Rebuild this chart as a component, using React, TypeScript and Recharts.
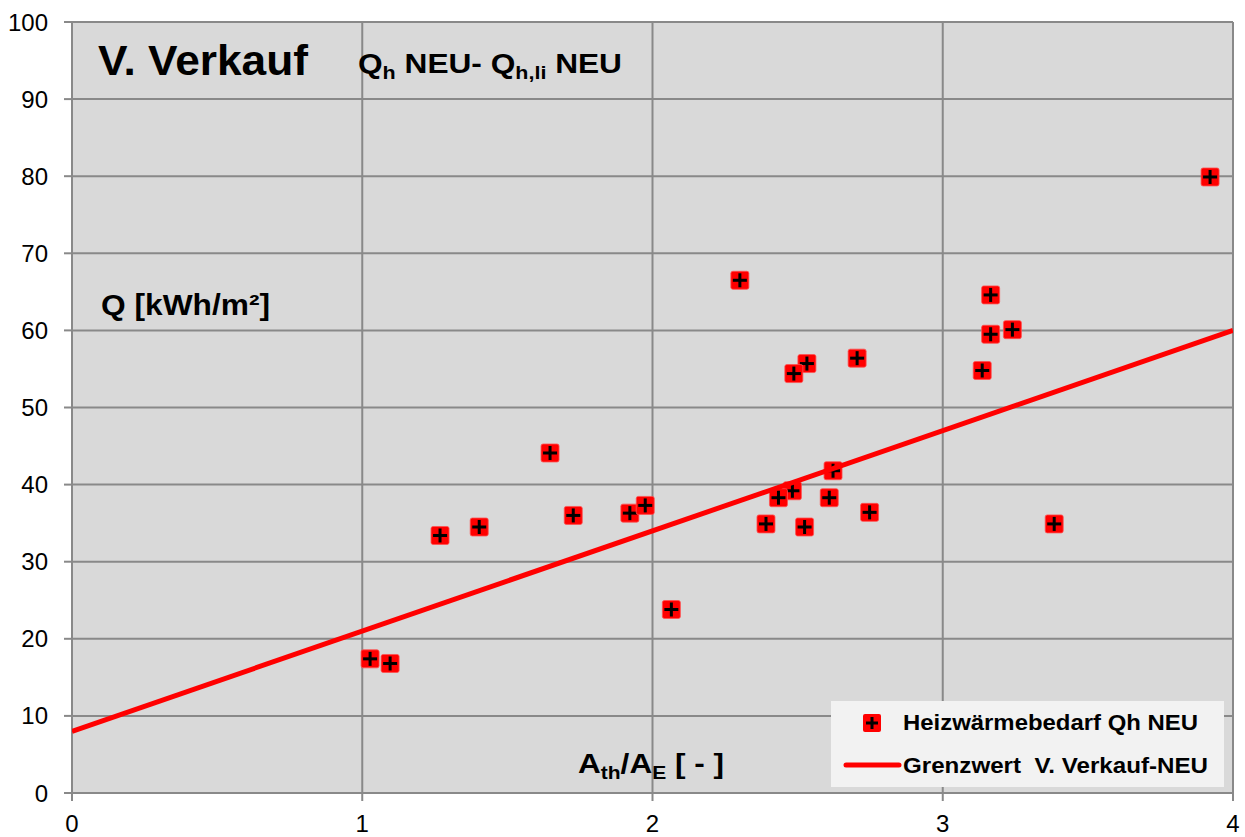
import React from 'react';
import { ScatterChart, Scatter, XAxis, YAxis, CartesianGrid } from 'recharts';

// A_th/A_E ratio of each building
const ratioValues = [
  3.921, 2.301, 3.165, 3.165, 3.240, 3.136, 2.705, 2.532, 2.487,
  1.647, 2.622, 2.482, 2.434, 2.609, 2.748, 2.391, 2.524, 3.384,
  1.727, 1.922, 1.975, 1.403, 1.268, 2.065, 1.027, 1.096,
];
// Heizwärmebedarf Qh NEU [kWh/m²]
const heatDemand = [
  79.9, 66.5, 64.6, 59.5, 60.1, 54.8, 56.4, 55.7, 54.4,
  44.1, 41.8, 39.2, 38.3, 38.3, 36.4, 34.9, 34.5, 34.9,
  36.0, 36.3, 37.3, 34.5, 33.4, 23.8, 17.4, 16.8,
];
// Grenzwert V. Verkauf-NEU line end points
const limitX = [0, 4];
const limitY = [8, 60];

const xTicks = [0, 1, 2, 3, 4];
const yTicks = [0, 10, 20, 30, 40, 50, 60, 70, 80, 90, 100];

const points = ratioValues.map((x, i) => ({ x, y: heatDemand[i] }));
const limitLine = limitX.map((x, i) => ({ x, y: limitY[i] }));

const FONT = '"Liberation Sans", Arial, sans-serif';
const GRID = '#898989';

const Marker = (props: any) => {
  const { cx, cy } = props;
  if (cx == null || cy == null) return null;
  return (
    <g>
      <rect x={cx - 9} y={cy - 9} width={18} height={18} rx={2} fill="#ff0000" stroke="#ff5050" strokeWidth={0.8} />
      <line x1={cx - 7} y1={cy} x2={cx + 7} y2={cy} stroke="#000" strokeWidth={3} />
      <line x1={cx} y1={cy - 7} x2={cx} y2={cy + 7} stroke="#000" strokeWidth={3} />
    </g>
  );
};

export default function App() {
  return (
    <div style={{ position: 'absolute', left: 0, top: 0, width: 1245, height: 837, background: '#fff' }}>
      <ScatterChart
        width={1245}
        height={837}
        margin={{ top: 22, right: 12, bottom: 0, left: 0 }}
      >
        <CartesianGrid fill="#d9d9d9" stroke={GRID} strokeWidth={2} />
        <XAxis
          type="number"
          dataKey="x"
          domain={[0, 4]}
          ticks={xTicks}
          height={44}
          tickSize={8}
          tickMargin={14}
          stroke={GRID}
          strokeWidth={2}
          tick={{ fill: '#000', fontSize: 24, fontFamily: FONT }}
          allowDataOverflow
        />
        <YAxis
          type="number"
          dataKey="y"
          domain={[0, 100]}
          ticks={yTicks}
          width={72}
          tickSize={8}
          tickMargin={16}
          stroke={GRID}
          strokeWidth={2}
          tick={{ fill: '#000', fontSize: 24, fontFamily: FONT }}
          allowDataOverflow
        />
        <Scatter data={points} shape={<Marker />} isAnimationActive={false} />
        <Scatter
          data={limitLine}
          line={{ stroke: '#ff0000', strokeWidth: 5 }}
          shape={() => null}
          isAnimationActive={false}
        />
      </ScatterChart>
      <svg
        width={1245}
        height={837}
        style={{ position: 'absolute', left: 0, top: 0, pointerEvents: 'none' }}
        fontFamily={FONT}
        fontWeight="bold"
      >
        <text x={98} y={75} fontSize={43} fill="#000" textLength={210} lengthAdjust="spacingAndGlyphs">V. Verkauf</text>
        <text x={358} y={73} fontSize={28} fill="#000" textLength={264} lengthAdjust="spacingAndGlyphs">
          Q<tspan fontSize={19} dy={6}>h</tspan>
          <tspan dy={-6}> NEU- Q</tspan>
          <tspan fontSize={19} dy={6}>h,li</tspan>
          <tspan dy={-6}> NEU</tspan>
        </text>
        <text x={101} y={315} fontSize={29} fill="#000" textLength={169} lengthAdjust="spacingAndGlyphs">
          Q [kWh/m²]
        </text>
        <text x={578} y={773} fontSize={27} fill="#000" textLength={146} lengthAdjust="spacingAndGlyphs">
          A<tspan fontSize={18} dy={6}>th</tspan>
          <tspan dy={-6}>/A</tspan>
          <tspan fontSize={18} dy={6}>E</tspan>
          <tspan dy={-6}> [ - ]</tspan>
        </text>
        <rect x={831} y={701} width={393} height={86} fill="#f2f2f2" />
        <rect x={863} y={714} width={18} height={18} rx={2} fill="#ff0000" />
        <line x1={866} y1={723} x2={878} y2={723} stroke="#000" strokeWidth={3} />
        <line x1={872} y1={717} x2={872} y2={729} stroke="#000" strokeWidth={3} />
        <text x={903} y={730} fontSize={22} fill="#000" textLength={295} lengthAdjust="spacingAndGlyphs">Heizwärmebedarf Qh NEU</text>
        <line x1={846} y1={765} x2={899} y2={765} stroke="#ff0000" strokeWidth={5} strokeLinecap="round" />
        <text x={903} y={773} fontSize={22} fill="#000" style={{ whiteSpace: 'pre' }} textLength={305} lengthAdjust="spacingAndGlyphs">
          {'Grenzwert  V. Verkauf-NEU'}
        </text>
      </svg>
    </div>
  );
}
